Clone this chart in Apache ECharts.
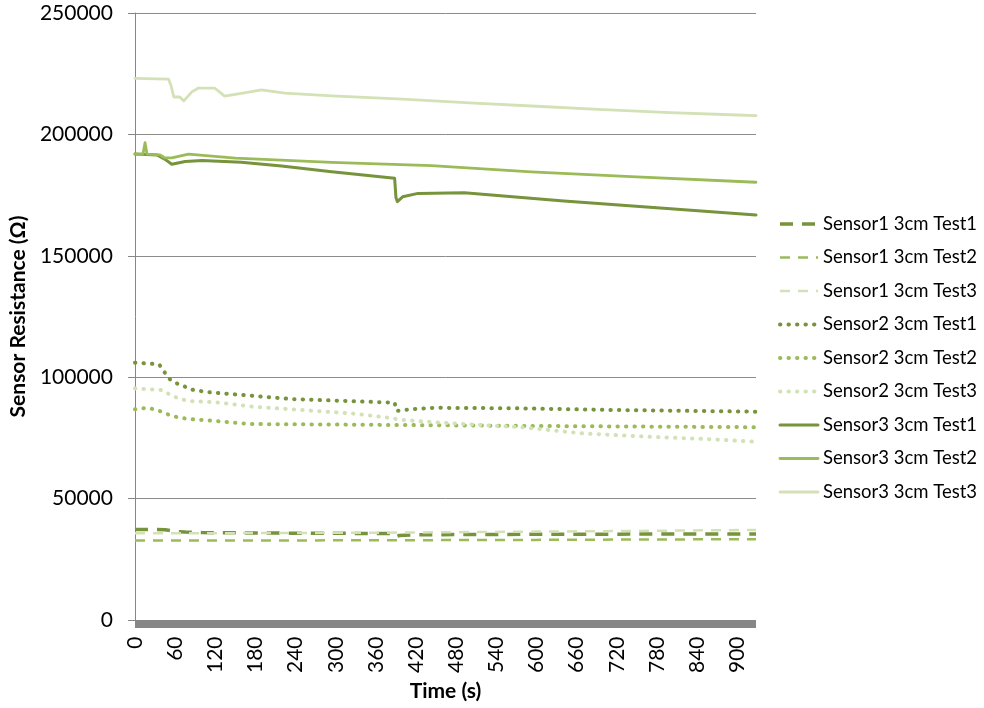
<!DOCTYPE html>
<html>
<head>
<meta charset="utf-8">
<script src="https://cdn.jsdelivr.net/npm/echarts@6/dist/echarts.min.js"></script>
<style>
  html, body { margin: 0; padding: 0; background: #fff; }
  #chart { width: 984px; height: 708px; }
</style>
</head>
<body>
<div id="chart"></div>
<script>
// Sensor resistance (ohm) against time (s), three sensors at 3 cm, three tests each.
const seriesNames = [
  'Sensor1 3cm Test1', 'Sensor1 3cm Test2', 'Sensor1 3cm Test3',
  'Sensor2 3cm Test1', 'Sensor2 3cm Test2', 'Sensor2 3cm Test3',
  'Sensor3 3cm Test1', 'Sensor3 3cm Test2', 'Sensor3 3cm Test3'
];

// Sensor 1
const s1t1Time = [0, 45, 60, 75, 100, 200, 300, 385, 390, 395, 420, 600, 800, 928];
const s1t1Ohm  = [37300, 37200, 36500, 36200, 36000, 35800, 35700, 35600, 34300, 34800, 35100, 35300, 35400, 35400];
const s1t2Time = [0, 300, 600, 928];
const s1t2Ohm  = [32700, 32800, 33000, 33300];
const s1t3Time = [0, 200, 400, 600, 800, 928];
const s1t3Ohm  = [35700, 35800, 36000, 36400, 36800, 37100];

// Sensor 2
const s2t1Time = [0, 36, 43, 49, 60, 72, 82, 107, 159, 234, 388, 391, 417, 447, 567, 716, 928];
const s2t1Ohm  = [106000, 105300, 102600, 99800, 97700, 96500, 95000, 93900, 92700, 91000, 89500, 86100, 86900, 87400, 87200, 86500, 85800];
const s2t2Time = [0, 18, 33, 43, 55, 79, 119, 174, 249, 398, 600, 928];
const s2t2Ohm  = [86800, 87400, 86500, 85400, 84000, 82800, 82000, 80700, 80600, 80300, 79900, 79400];
const s2t3Time = [0, 40, 58, 79, 119, 174, 249, 323, 368, 398, 428, 517, 577, 617, 666, 766, 864, 928];
const s2t3Ohm  = [95400, 94700, 92000, 90200, 89700, 87900, 86500, 85100, 83700, 82500, 81800, 80300, 79400, 78300, 76900, 75500, 74400, 73400];

// Sensor 3
const s3t1Time = [0, 33, 45, 55, 75, 100, 159, 219, 294, 388, 390, 392, 400, 423, 492, 641, 790, 928];
const s3t1Ohm  = [191900, 191500, 189700, 187700, 188800, 189200, 188500, 187000, 184600, 181900, 174000, 172300, 174300, 175700, 176000, 172600, 169600, 166800];
const s3t2Time = [0, 12, 15, 18, 37, 45, 55, 80, 150, 294, 443, 592, 741, 928];
const s3t2Ohm  = [191900, 191900, 196600, 191900, 191600, 190300, 190300, 191900, 190200, 188500, 187100, 184600, 182600, 180300];
const s3t3Time = [0, 50, 54, 58, 67, 73, 85, 95, 119, 134, 159, 189, 224, 294, 400, 500, 600, 700, 800, 900, 928];
const s3t3Ohm  = [223100, 222800, 220000, 215400, 215400, 213800, 217500, 219100, 219100, 215800, 216900, 218300, 217000, 215900, 214500, 213000, 211600, 210200, 209000, 208000, 207700];

const timeSets = [s1t1Time, s1t2Time, s1t3Time, s2t1Time, s2t2Time, s2t3Time, s3t1Time, s3t2Time, s3t3Time];
const ohmSets  = [s1t1Ohm, s1t2Ohm, s1t3Ohm, s2t1Ohm, s2t2Ohm, s2t3Ohm, s3t1Ohm, s3t2Ohm, s3t3Ohm];

// Olive palette: test 1 dark, test 2 mid, test 3 pale
const testColors = ['#77933C', '#9BBB59', '#D3E1B7'];

function lineStyleFor(idx) {
  const sensor = Math.floor(idx / 3);
  const test = idx % 3;
  const color = testColors[test];
  if (sensor === 0) {
    return test === 0
      ? { color, width: 3.5, type: [13, 9], cap: 'butt' }
      : { color, width: 2.5, type: [10, 8], cap: 'butt' };
  }
  if (sensor === 1) {
    return { color, width: 4, type: [0.4, 8.1], cap: 'round' };
  }
  return { color, width: test === 0 ? 3 : 2.8, type: 'solid', cap: 'round', join: 'round' };
}

const series = seriesNames.map((name, i) => ({
  name,
  type: 'line',
  symbol: 'none',
  showSymbol: false,
  animation: false,
  color: testColors[i % 3],
  lineStyle: lineStyleFor(i),
  data: timeSets[i].map((t, k) => [t, ohmSets[i][k]])
}));

const font = 'Lato, "Open Sans", sans-serif';

const chart = echarts.init(document.getElementById('chart'), null, { renderer: 'canvas' });
chart.setOption({
  backgroundColor: '#fff',
  animation: false,
  textStyle: { fontFamily: font, color: '#000' },
  grid: { left: 133, right: 228, top: 13, bottom: 88, containLabel: false },
  legend: {
    orient: 'vertical',
    left: 773,
    top: 209,
    itemWidth: 38,
    itemHeight: 14,
    itemGap: 13.5,
    itemStyle: { color: 'rgba(0,0,0,0)', borderWidth: 0, opacity: 0 },
    textStyle: { fontFamily: font, fontSize: 18.5, color: '#000', lineHeight: 20 },
    data: seriesNames.map((name, i) => ({ name, lineStyle: lineStyleFor(i) }))
  },
  xAxis: {
    type: 'value',
    min: 0,
    max: 928,
    interval: 60,
    offset: 3.5,
    name: 'Time (s)',
    nameLocation: 'middle',
    nameGap: 56,
    nameTextStyle: { fontFamily: font, fontSize: 21, fontWeight: 'bold', color: '#000' },
    axisLine: { show: true, onZero: false, lineStyle: { color: '#878787', width: 8, cap: 'butt' } },
    axisTick: { show: false },
    splitLine: { show: false },
    axisLabel: {
      rotate: 90,
      margin: 13,
      fontFamily: font,
      fontSize: 21,
      color: '#000',
      showMaxLabel: false,
      formatter: v => String(v)
    }
  },
  yAxis: {
    type: 'value',
    min: 0,
    max: 250000,
    interval: 50000,
    name: 'Sensor Resistance (Ω)',
    nameLocation: 'middle',
    nameGap: 96,
    nameTextStyle: { fontFamily: font, fontSize: 21, fontWeight: 'bold', color: '#000' },
    axisLine: { show: true, lineStyle: { color: '#868686', width: 1 } },
    axisTick: { show: true, length: 7, lineStyle: { color: '#868686', width: 1 } },
    splitLine: { show: true, lineStyle: { color: '#8c8c8c', width: 1 } },
    axisLabel: {
      margin: 22,
      fontFamily: font,
      fontSize: 21,
      color: '#000',
      formatter: v => String(v)
    }
  },
  series
});
</script>
</body>
</html>
